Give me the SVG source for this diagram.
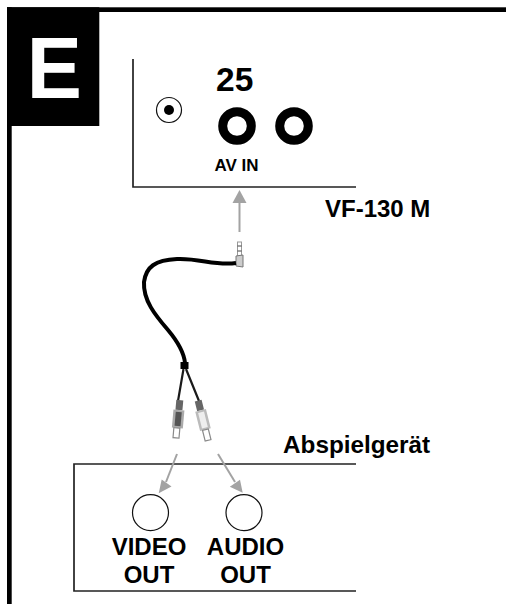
<svg xmlns="http://www.w3.org/2000/svg" width="506" height="604" viewBox="0 0 506 604">
<style>
text{font-family:"Liberation Sans",Arial,sans-serif;font-weight:bold;fill:#000}
.l{fill:none;stroke:#222;stroke-width:1.7}
.a{stroke:#a3a3a3;stroke-width:2;fill:none}
.h{fill:#a3a3a3}
.c{fill:#fff;stroke:#111;stroke-width:1.2}
.p{fill:#fff;stroke:#8a8a8a;stroke-width:1.2}
</style>
<rect width="506" height="604" fill="#fff"/>
<g id="frame">
<rect x="7" y="7.300" width="499" height="4.700" fill="#000"/>
<rect x="7" y="7.300" width="4.700" height="596.700" fill="#000"/>
<rect x="7" y="7.300" width="92.300" height="118.700" fill="#000"/>
<text transform="translate(26.800 98.300) scale(.95 1)" font-size="87" style="fill:#fff">E</text>
</g>
<g id="device-top">
<path class="l" d="M133 59V187H356"/>
<text x="216" y="91" font-size="33.500">25</text>
<circle cx="169" cy="110" r="12.500" class="c"/>
<circle cx="169" cy="110" r="5" fill="#000"/>
<circle cx="237" cy="126" r="14.300" fill="#fff" stroke="#000" stroke-width="9"/>
<circle cx="294" cy="126" r="14.300" fill="#fff" stroke="#000" stroke-width="9"/>
<text x="236.500" y="170.700" font-size="17" text-anchor="middle">AV IN</text>
<text x="325" y="217" font-size="24">VF-130 M</text>
</g>
<g id="device-bottom">
<path class="l" d="M356 464H74V591H356"/>
<text x="283" y="453" font-size="24.300">Abspielgerät</text>
<circle cx="150.500" cy="512.700" r="18" class="c"/>
<circle cx="244" cy="512.700" r="18" class="c"/>
<text x="149" y="555" font-size="24" text-anchor="middle">VIDEO</text>
<text x="149" y="583" font-size="24" text-anchor="middle">OUT</text>
<text x="245.500" y="555" font-size="24" text-anchor="middle">AUDIO</text>
<text x="245.500" y="583" font-size="24" text-anchor="middle">OUT</text>
</g>
<g id="cable">
<rect x="237.500" y="242" width="4" height="14" fill="#fff" stroke="#999" stroke-width="1"/>
<path d="M237.500 246h4M237.500 251h4" stroke="#444" stroke-width="1.200"/>
<path d="M236 256L243 255V267L236 266Z" fill="#ccc" stroke="#777"/>
<path d="M236 263C215 266 200 258 177 259C155 260 146 267 144 282C143 300 155 315 168 330C178 342 184 352 185 363" fill="none" stroke="#000" stroke-width="4"/>
<rect x="180.500" y="362" width="8" height="7" fill="#000"/>
<path d="M183.500 369L178 401M186 369L199 401" stroke="#1a1a1a" stroke-width="2.200" fill="none"/>
<g transform="rotate(5 178 415)">
<rect x="175" y="400" width="7" height="10" fill="#666"/>
<rect x="173" y="410" width="11" height="18" fill="#aaa"/>
<rect x="175.500" y="412" width="6" height="14" fill="#555"/>
<rect x="175" y="428" width="6" height="10" class="p"/>
</g>
<g transform="rotate(-14 203 420)">
<rect x="199.500" y="400" width="7" height="10" fill="#666"/>
<rect x="197.500" y="410" width="11" height="20" fill="#bbb"/>
<rect x="200" y="412" width="6" height="16" fill="#eee"/>
<rect x="200" y="430" width="6" height="11" class="p"/>
</g>
</g>
<g id="connectors">
<path class="a" d="M239.500 232V202"/>
<path class="h" d="M239.500 190L246.500 203H232.500Z"/>
<path class="a" d="M177 454L166 482"/>
<path class="h" d="M158.700 493.300L161.700 479.500L171.500 486.500Z"/>
<path class="a" d="M218 454L235 482"/>
<path class="h" d="M242.700 492.700L229.800 486.700L240 479.700Z"/>
</g>
</svg>
